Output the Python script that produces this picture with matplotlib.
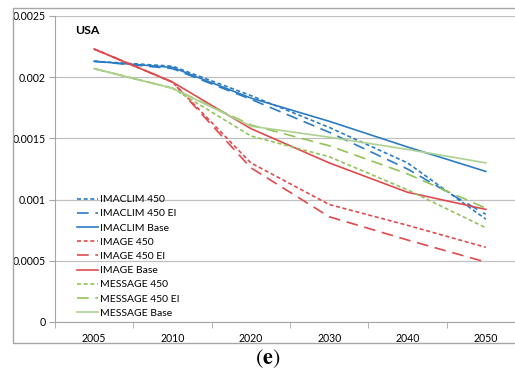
import matplotlib
matplotlib.use("Agg")
import matplotlib.pyplot as plt
from matplotlib.patches import Rectangle

plt.rcParams['font.family'] = ['Lato', 'DejaVu Sans']

years = ['2005', '2010', '2020', '2030', '2040', '2050']

imaclim_450 = [0.00213, 0.00209, 0.00185, 0.00159, 0.00130, 0.00084]
imaclim_450_ei = [0.00213, 0.00207, 0.00182, 0.00155, 0.00125, 0.00088]
imaclim_base = [0.00213, 0.00208, 0.00183, 0.00164, 0.00143, 0.00123]
image_450 = [0.00223, 0.00196, 0.00130, 0.00096, 0.00079, 0.00061]
image_450_ei = [0.00223, 0.00196, 0.00126, 0.00086, 0.00067, 0.00049]
image_base = [0.00223, 0.00196, 0.00158, 0.00130, 0.00106, 0.00092]
message_450 = [0.00207, 0.00191, 0.00152, 0.00135, 0.00108, 0.00077]
message_450_ei = [0.00207, 0.00191, 0.00161, 0.00144, 0.00121, 0.00093]
message_base = [0.00207, 0.00191, 0.00160, 0.00151, 0.00141, 0.00130]

blue = '#2b7cc4'
red = '#e04a4d'
green = '#94c355'
light_green = '#acd191'

short = (0, (2.4, 1.6))
long_ = (0, (7, 4))

series = [
    ('IMACLIM 450', imaclim_450, blue, short),
    ('IMACLIM 450 EI', imaclim_450_ei, blue, long_),
    ('IMACLIM Base', imaclim_base, blue, '-'),
    ('IMAGE 450', image_450, red, short),
    ('IMAGE 450 EI', image_450_ei, red, long_),
    ('IMAGE Base', image_base, red, '-'),
    ('MESSAGE 450', message_450, green, short),
    ('MESSAGE 450 EI', message_450_ei, green, long_),
    ('MESSAGE Base', message_base, light_green, '-'),
]

W, H = 515, 378
fig = plt.figure(figsize=(W / 100, H / 100), dpi=100)

# outer chart frame
fig.patches.append(Rectangle((13 / W, 1 - 343 / H), 520 / W, (343 - 8) / H,
                             transform=fig.transFigure, fill=False,
                             edgecolor='#a6a6a6', linewidth=1.0))

ax = fig.add_axes([55 / W, 1 - 322 / H, 470 / W, (322 - 16) / H])
x = list(range(len(years)))
for name, vals, color, ls in series:
    ax.plot(x, vals, color=color, linestyle=ls, linewidth=1.2, label=name)

ax.set_xlim(-0.5, len(years) - 0.5)
ax.set_ylim(0, 0.0025)
ax.set_yticks([0, 0.0005, 0.001, 0.0015, 0.002, 0.0025])
ax.set_yticklabels(['0', '0.0005', '0.001', '0.0015', '0.002', '0.0025'])
ax.set_xticks(x)
ax.set_xticklabels(years)
ax.set_xticks([i - 0.5 for i in range(len(years) + 1)], minor=True)
ax.tick_params(axis='x', which='major', length=0, pad=8, labelsize=7.6)
ax.tick_params(axis='x', which='minor', length=4, color='#a6a6a6')
ax.tick_params(axis='y', length=4, color='#a6a6a6', labelsize=7.6, pad=3)
ax.grid(axis='y', color='#c0c0c0', linewidth=0.9)
ax.set_axisbelow(True)
for side in ['top', 'right']:
    ax.spines[side].set_visible(False)
for side in ['left', 'bottom']:
    ax.spines[side].set_color('#a6a6a6')

ax.text(20 / 470, 1 - 15 / 306, 'USA', transform=ax.transAxes,
        fontsize=8.8, fontweight='bold', va='center', ha='left')

ax.legend(loc='upper left', bbox_to_anchor=(22 / 470, 127 / 306), frameon=False,
          fontsize=7.5, handlelength=2.0, handletextpad=0.2, labelspacing=0.47,
          borderpad=0, borderaxespad=0)

fig.text(268 / W, 1 - 359 / H, r'$(\mathbf{e})$', fontsize=16,
         ha='center', va='center', math_fontfamily='stix')

fig.savefig('out.png', dpi=100)
